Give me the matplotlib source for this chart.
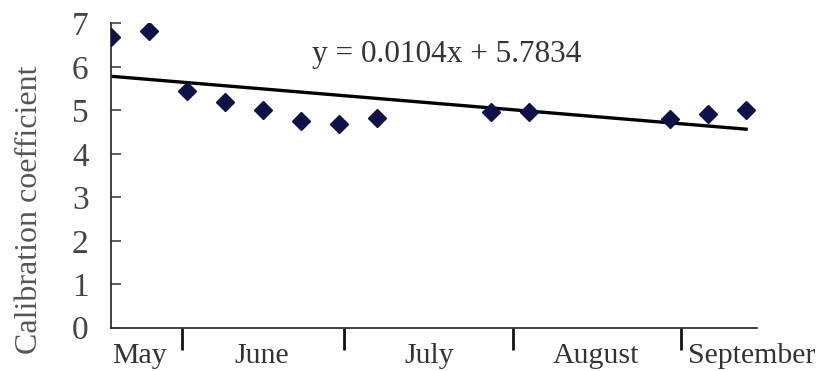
import matplotlib
matplotlib.use("Agg")
from matplotlib import pyplot as plt
from matplotlib.ticker import FixedLocator, NullFormatter

# days counted from the start of the record (19 May)
days = [0, 7, 14, 21, 28, 35, 42, 49, 70, 77, 103, 110, 117]
coef = [6.68, 6.83, 5.45, 5.18, 5.00, 4.75, 4.68, 4.83, 4.96, 4.96, 4.81, 4.91, 5.01]

# linear fit
slope = -0.0104
intercept = 5.7834
fit_x = [0, 117]

# month boundaries and label centres (days)
month_edges = [13, 43, 74, 105]
month_names = ["May", "June", "July", "August", "September"]
month_mid = [5.2, 27.8, 58.7, 89.4, 118.1]

plt.rcParams["font.family"] = ["Liberation Serif", "DejaVu Serif"]

fig = plt.figure(figsize=(8.25, 3.71), dpi=100)
ax = fig.add_axes([0.1345, 0.1167, 0.783, 0.8203])

ax.plot(fit_x, [intercept + slope * v for v in fit_x], color="black", lw=2.4, zorder=2)
ax.plot(days, coef, linestyle="none", marker="D", markersize=9,
        color="#10104a", zorder=3)

ax.text(61.9, 6.28, "y = 0.0104x + 5.7834", fontsize=22.5, color="#333333",
        ha="center", va="center")

ax.set_xlim(0, 119)
ax.set_ylim(0, 7)

for s in ["top", "right"]:
    ax.spines[s].set_visible(False)
for s in ["left", "bottom"]:
    ax.spines[s].set_color("#333333")
    ax.spines[s].set_linewidth(1.3)

ax.set_yticks(range(0, 8))
ax.tick_params(axis="y", direction="in", length=7, width=1.1, color="#333333",
               labelsize=24, labelcolor="#444444", pad=16)

ax.xaxis.set_major_locator(FixedLocator(month_edges))
ax.xaxis.set_major_formatter(NullFormatter())
ax.xaxis.set_minor_locator(FixedLocator(month_mid))
ax.set_xticklabels(month_names, minor=True)
ax.tick_params(axis="x", which="major", direction="out", length=16, width=2,
               color="#111111")
ax.tick_params(axis="x", which="minor", length=0, labelsize=21.5,
               labelcolor="#333333", pad=11)

fig.text(0.036, 0.435, "Calibration coefficient", rotation=90, fontsize=23,
         color="#555555", ha="center", va="center")

fig.savefig("out.png", dpi=100)
